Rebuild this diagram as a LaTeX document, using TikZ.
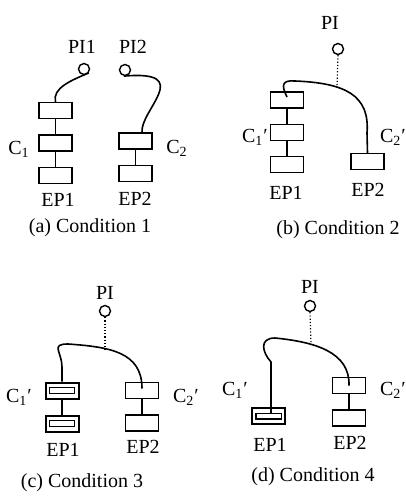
\documentclass[tikz,border=0pt]{standalone}
\usepackage{fontspec}
\setmainfont{Liberation Serif}
\usetikzlibrary{positioning,calc}

\begin{document}
\begin{tikzpicture}[
  x=0.5pt, y=-0.5pt, node distance=7.5pt, line width=0.7pt,
  box/.style={draw, minimum width=16.5pt, minimum height=8pt, inner sep=0pt},
  dbox/.style={box, line width=1pt, path picture={
      \draw[line width=0.7pt] ([shift={(1.9pt,2.6pt)}]path picture bounding box.south west)
        rectangle ([shift={(-1.9pt,-2.6pt)}]path picture bounding box.north east);}},
  pin/.style={draw, circle, minimum size=5.5pt, inner sep=0pt},
  lab/.style={font=\fontsize{10}{12}\selectfont, inner sep=0pt},
  wire/.style={line width=0.8pt},
  probe/.style={densely dotted, line width=0.6pt}
]
\useasboundingbox (0,0) rectangle (406,497);

% (a) Condition 1
\node[pin] (pi1) at (84,69) {};
\node[pin] (pi2) at (125,70) {};
\node[lab] (pi1t) at (82,47) {PI1};
\node[lab] (pi2t) at (133,47) {PI2};
\node[box] (a11) at (55.5,110.5) {};
\node[box, below=of a11] (a12) {};
\node[box, below=of a12] (a13) {};
\node[box] (a21) at (135.5,141) {};
\node[box, below=of a21] (a22) {};
\node[lab] (ca1) at (19,149) {C\textsubscript{1}};
\node[lab] (ca2) at (177,148) {C\textsubscript{2}};
\node[lab] (epa1) at (58,200) {EP1};
\node[lab] (epa2) at (135,199) {EP2};
\node[lab] (capa) at (90,228) {(a) Condition 1};
\draw (a11) -- (a12) -- (a13);
\draw (a21) -- (a22);
\draw[wire] (pi1.-40) .. controls (72,80) and (52,88) .. (a11.north);
\draw[wire] (pi2.-100) .. controls (195,70) and (140,110) .. ([xshift=3.25pt]a21.north);

% (b) Condition 2
\node[pin] (pib) at (338,49) {};
\node[lab] (pibt) at (330,23) {PI};
\node[box] (b11) at (287,100) {};
\node[box, below=of b11] (b12) {};
\node[box, below=of b12] (b13) {};
\node[box] (b21) at (367.5,161.5) {};
\node[lab] (cb1) at (255,137) {C\textsubscript{1}′};
\node[lab] (cb2) at (393,137) {C\textsubscript{2}′};
\node[lab] (epb1) at (286,193) {EP1};
\node[lab] (epb2) at (368,190) {EP2};
\node[lab] (capb) at (338,230) {(b) Condition 2};
\coordinate (tapb) at (337,87);
\draw (b11) -- (b12) -- (b13);
\draw[wire] ([yshift=1.5pt]b11.center) .. controls (281,85) and (282,80) .. (295,81)
  .. controls (345,83) and (370,95) .. (367,133) -- (b21.north);
\draw[probe] (pib.south) -- (tapb);

% (c) Condition 3
\node[pin] (pic) at (105,311) {};
\node[lab] (pict) at (105,293) {PI};
\node[dbox] (c11) at (62,390.5) {};
\node[dbox, below=of c11] (c12) {};
\node[box] (c21) at (142,390.5) {};
\node[box, below=of c21] (c22) {};
\node[lab] (cc1) at (19,397) {C\textsubscript{1}′};
\node[lab] (cc2) at (186,397) {C\textsubscript{2}′};
\node[lab] (epc1) at (63,450) {EP1};
\node[lab] (epc2) at (143,447) {EP2};
\node[lab] (capc) at (82,483) {(c) Condition 3};
\coordinate (tapc) at (105,350);
\draw (c11) -- (c12);
\draw (c21) -- (c22);
\draw[wire] (c11.north) -- (62,367) .. controls (62,352) and (50,344) .. (68,344)
  .. controls (110,347) and (142,352) .. ([yshift=1pt]c21.center);
\draw[probe] (pic.south) -- (tapc);

% (d) Condition 4
\node[pin] (pid) at (310,306) {};
\node[lab] (pidt) at (310,287) {PI};
\node[dbox] (d11) at (268.5,416) {};
\node[box] (d21) at (349,385.5) {};
\node[box, below=of d21] (d22) {};
\node[lab] (cd1) at (235,390) {C\textsubscript{1}′};
\node[lab] (cd2) at (393,390) {C\textsubscript{2}′};
\node[lab] (epd1) at (270,445) {EP1};
\node[lab] (epd2) at (350,443) {EP2};
\node[lab] (capd) at (313,477) {(d) Condition 4};
\coordinate (tapd) at (311,345);
\draw (d21) -- (d22);
\draw[wire] ([xshift=1.25pt,yshift=1.5pt]d11.center) -- (271,362) .. controls (262,352) and (259,338) .. (275,338)
  .. controls (315,342) and (350,352) .. (d21.center);
\draw[probe] (pid.south) -- (tapd);
\end{tikzpicture}
\end{document}
